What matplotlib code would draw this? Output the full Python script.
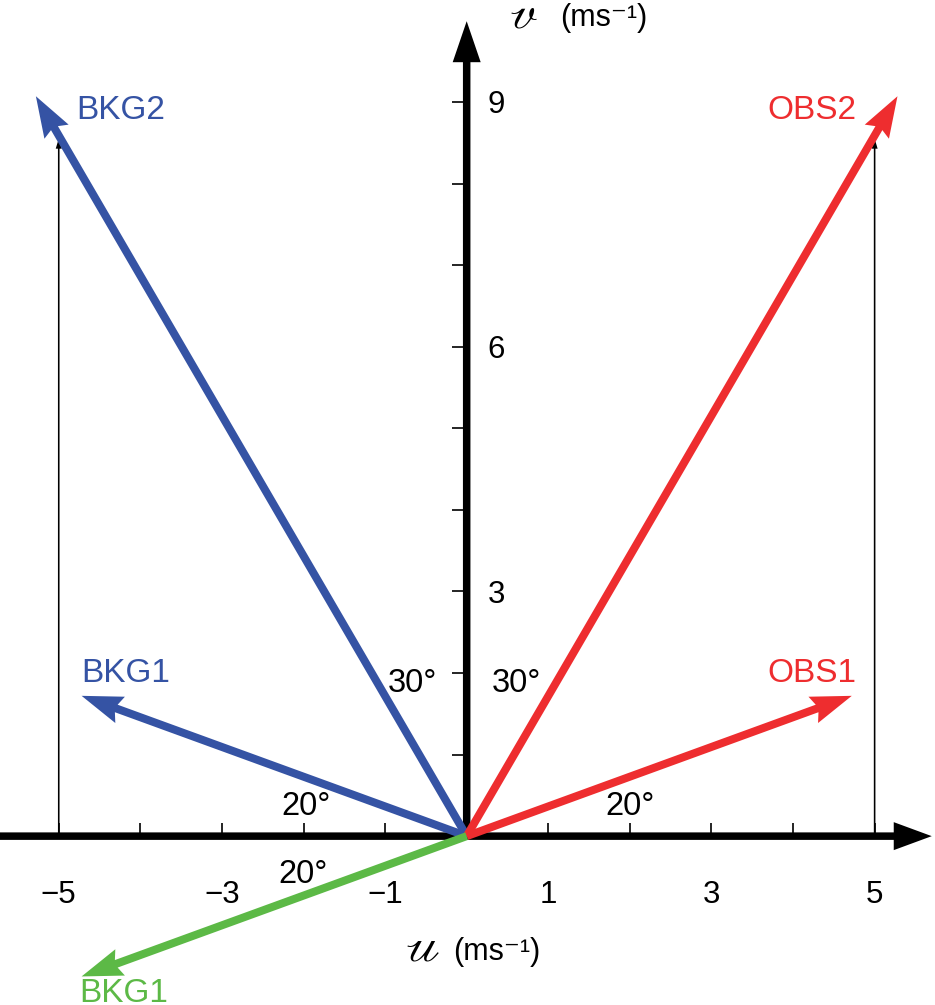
import matplotlib.pyplot as plt
from matplotlib.ticker import FixedLocator

plt.rcParams['font.family'] = ['Liberation Sans', 'DejaVu Sans']
plt.rcParams['mathtext.fontset'] = 'stix'

# wind vectors (u, v) in m/s
vec_label = ['BKG2', 'BKG1', 'OBS2', 'OBS1', 'BKG1']
vec_u = [-5.28, -4.72, 5.28, 4.72, -4.72]
vec_v = [9.07, 1.72, 9.07, 1.72, -1.72]
vec_color = ['#3553a4', '#3553a4', '#ee2d2f', '#ee2d2f', '#5cb946']

# where the vector names sit
lab_u = [-4.79, -4.73, 4.78, 4.78, -4.75]
lab_v = [8.79, 1.89, 8.79, 1.89, -2.03]
lab_ha = ['left', 'left', 'right', 'right', 'left']

# thin guides up from the u axis
guide_u = [-5, 5]
guide_v = [8.55, 8.55]

# angle annotations
ang_text = ['30°', '30°', '20°', '20°', '20°']
ang_u = [-0.67, 0.61, -1.97, 2.0, -2.0]
ang_v = [1.77, 1.77, 0.26, 0.26, -0.58]

xticks_major = [-5, -3, -1, 1, 3, 5]
xticks_minor = [-4, -2, 2, 4]
yticks_major = [3, 6, 9]
yticks_minor = [1, 2, 4, 5, 7, 8]

px = 1 / 81.6  # one pixel in data units

fig = plt.figure(figsize=(9.35, 10.05), dpi=100)
ax = fig.add_axes([0, 0, 1, 1])
ax.set_xlim(-5.72, 5.74)
ax.set_ylim(-2.07, 10.25)

ax.spines['bottom'].set_position(('data', 0))
ax.spines['right'].set_position(('data', 0))
for s in ax.spines.values():
    s.set_visible(False)

# ticks
ax.xaxis.set_major_locator(FixedLocator(xticks_major))
ax.xaxis.set_minor_locator(FixedLocator(xticks_minor))
ax.yaxis.set_major_locator(FixedLocator(yticks_major))
ax.yaxis.set_minor_locator(FixedLocator(yticks_minor))
ax.tick_params(axis='x', which='both', direction='in', length=9.5, width=1.2,
               pad=31.5, labelsize=22.5, top=False, bottom=True)
ax.tick_params(axis='y', which='both', direction='in', length=11, width=1.2,
               pad=15, labelsize=22.5, left=False, right=True,
               labelleft=False, labelright=True)

# axes drawn as arrows
ax.arrow(-5.72, 0, 5.70 + 5.72, 0, width=7.5 * px, head_width=28 * px,
         head_length=38 * px, length_includes_head=True, color='k', lw=0, zorder=2)
ax.arrow(0, 0, 0, 9.99, width=7.5 * px, head_width=28 * px,
         head_length=41 * px, length_includes_head=True, color='k', lw=0, zorder=2)

for u, v in zip(guide_u, guide_v):
    ax.arrow(u, 0, 0, v, width=1.6 * px, head_width=6 * px, head_length=10 * px,
             length_includes_head=True, color='k', lw=0, zorder=1.8)

for u, v, c in zip(vec_u, vec_v, vec_color):
    ax.arrow(0, 0, u, v, width=8 * px, head_width=28 * px, head_length=41 * px,
             length_includes_head=True, overhang=0.1, color=c, lw=0, zorder=4)

for t, u, v, ha, c in zip(vec_label, lab_u, lab_v, lab_ha, vec_color):
    ax.text(u, v, t, ha=ha, va='baseline', fontsize=24, color=c)

for t, u, v in zip(ang_text, ang_u, ang_v):
    ax.text(u, v, t, ha='center', va='baseline', fontsize=23.5)

# axis names
ax.text(-0.33, -1.52, r'$\mathscr{u}$', ha='right', va='baseline', fontsize=34)
ax.text(-0.17, -1.52, '(ms⁻¹)', ha='left', va='baseline', fontsize=22)
ax.text(0.87, 9.91, r'$\mathscr{v}$', ha='right', va='baseline', fontsize=33)
ax.text(1.14, 9.93, '(ms⁻¹)', ha='left', va='baseline', fontsize=22)

fig.savefig('out.png', dpi=100)
